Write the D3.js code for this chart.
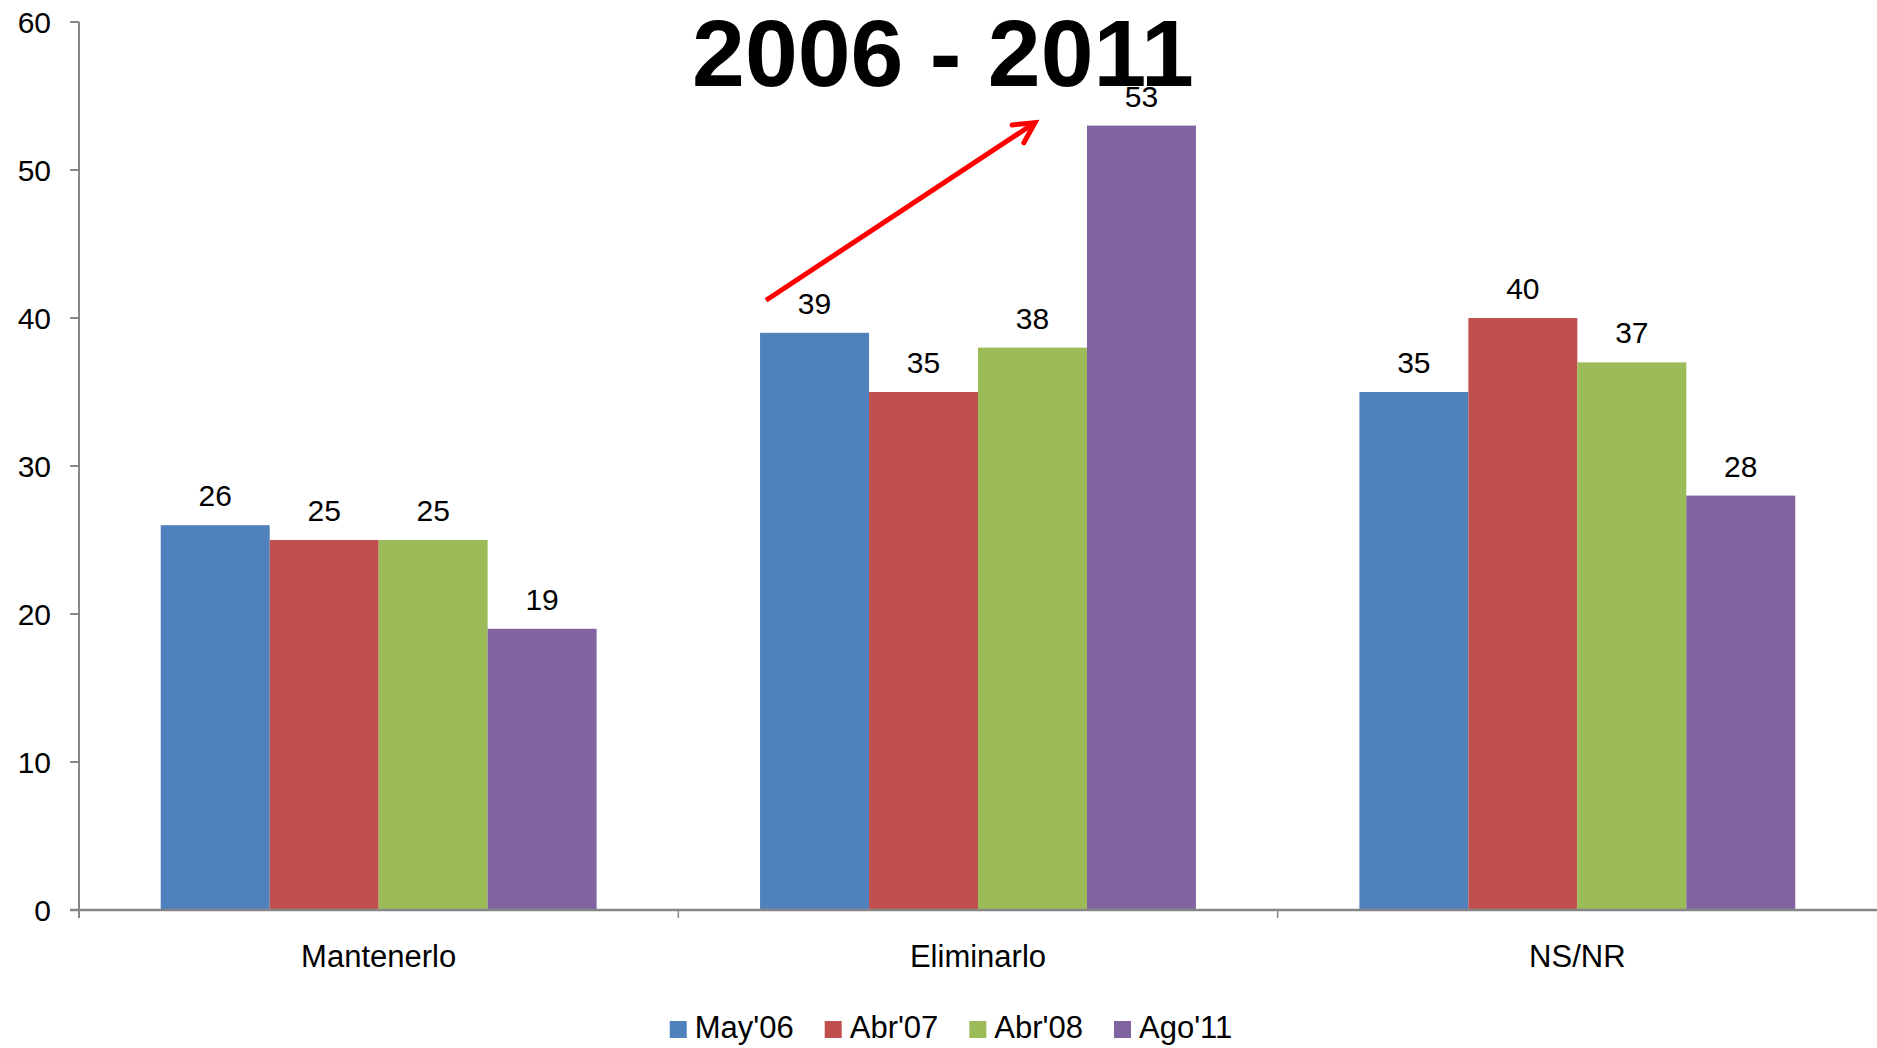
<!DOCTYPE html>
<html>
<head>
<meta charset="utf-8">
<script src="https://cdn.jsdelivr.net/npm/d3@7/dist/d3.min.js"></script>
<style>
  html, body { margin: 0; padding: 0; background: #fff; }
  svg { display: block; font-family: "Liberation Sans", Arial, sans-serif; }
</style>
</head>
<body>
<svg id="chart" width="1877" height="1048"></svg>
<script>
const categories = ["Mantenerlo", "Eliminarlo", "NS/NR"];
const seriesNames = ["May'06", "Abr'07", "Abr'08", "Ago'11"];
const seriesColors = ["#4F81BD", "#C0504D", "#9BBB59", "#8064A2"];
const may06 = [26, 39, 35];
const abr07 = [25, 35, 40];
const abr08 = [25, 38, 37];
const ago11 = [19, 53, 28];
const yTicks = [0, 10, 20, 30, 40, 50, 60];
const titleText = "2006 - 2011";
// arrow annotation: from (Eliminarlo, May'06, value 41.2) to (Eliminarlo, Ago'11, value 53.2)
const arrowFromValue = 41.2;
const arrowToValue = 53.2;

(function () {
const seriesValues = [may06, abr07, abr08, ago11];

const plotLeft = 79, plotRight = 1877, plotTop = 22, plotBottom = 910;
const svg = d3.select("#chart");

const x0 = d3.scaleBand().domain(categories).range([plotLeft, plotRight]).paddingInner(0).paddingOuter(0);
const gapRatio = 1.5 / 5.5 / 2; // Excel gap width 150%
const x1 = d3.scaleBand().domain(seriesNames)
  .range([x0.bandwidth() * gapRatio, x0.bandwidth() * (1 - gapRatio)]).padding(0);
const y = d3.scaleLinear().domain([0, 60]).range([plotBottom, plotTop]);

const axisColor = "#868686";

// bars
categories.forEach((cat, ci) => {
  seriesNames.forEach((s, si) => {
    const v = seriesValues[si][ci];
    svg.append("rect")
      .attr("x", x0(cat) + x1(s))
      .attr("y", y(v))
      .attr("width", x1.bandwidth())
      .attr("height", y(0) - y(v))
      .attr("fill", seriesColors[si]);
  });
});

// title
svg.append("text").attr("x", 943).attr("y", 86).attr("text-anchor", "middle")
  .attr("font-size", 95).attr("font-weight", "bold").attr("fill", "#000").text(titleText);

// data labels
categories.forEach((cat, ci) => {
  seriesNames.forEach((s, si) => {
    const v = seriesValues[si][ci];
    svg.append("text")
      .attr("x", x0(cat) + x1(s) + x1.bandwidth() / 2)
      .attr("y", y(v) - 19)
      .attr("text-anchor", "middle")
      .attr("font-size", 30)
      .attr("fill", "#000")
      .text(v);
  });
});

// y axis
const yAxis = svg.append("g");
yAxis.append("line").attr("x1", plotLeft).attr("x2", plotLeft).attr("y1", plotTop).attr("y2", plotBottom + 8)
  .attr("stroke", axisColor).attr("stroke-width", 2);
yTicks.forEach(t => {
  yAxis.append("line").attr("x1", plotLeft - 9).attr("x2", plotLeft).attr("y1", y(t)).attr("y2", y(t))
    .attr("stroke", axisColor).attr("stroke-width", 2);
  yAxis.append("text").attr("x", 51).attr("y", y(t) + 11)
    .attr("text-anchor", "end").attr("font-size", 30).attr("fill", "#000").text(t);
});

// x axis
const xAxis = svg.append("g");
xAxis.append("line").attr("x1", plotLeft - 9).attr("x2", plotRight).attr("y1", plotBottom).attr("y2", plotBottom)
  .attr("stroke", axisColor).attr("stroke-width", 2.5);
categories.forEach((cat, i) => {
  if (i > 0) {
    xAxis.append("line").attr("x1", x0(cat)).attr("x2", x0(cat)).attr("y1", plotBottom).attr("y2", plotBottom + 8)
      .attr("stroke", axisColor).attr("stroke-width", 1.5);
  }
  xAxis.append("text").attr("x", x0(cat) + x0.bandwidth() / 2).attr("y", 967)
    .attr("text-anchor", "middle").attr("font-size", 31).attr("fill", "#000").text(cat);
});

// arrow
const ax1 = x0("Eliminarlo") + x1("May'06") + 6;
const ay1 = y(arrowFromValue);
const ax2 = x0("Eliminarlo") + x1("Ago'11") - 52;
const ay2 = y(arrowToValue);
const ang = Math.atan2(ay2 - ay1, ax2 - ax1);
const headLen = 23, headAng = Math.PI / 6.5;
svg.append("line").attr("x1", ax1).attr("y1", ay1).attr("x2", ax2 - 2 * Math.cos(ang)).attr("y2", ay2 - 2 * Math.sin(ang))
  .attr("stroke", "#FF0000").attr("stroke-width", 5);
const hp = [
  [ax2 - headLen * Math.cos(ang - headAng), ay2 - headLen * Math.sin(ang - headAng)],
  [ax2, ay2],
  [ax2 - headLen * Math.cos(ang + headAng), ay2 - headLen * Math.sin(ang + headAng)]
];
svg.append("path").attr("d", d3.line()(hp)).attr("fill", "none")
  .attr("stroke", "#FF0000").attr("stroke-width", 5).attr("stroke-linejoin", "miter").attr("stroke-linecap", "round");

// legend
const legend = svg.append("g");
let lx = 0;
seriesNames.forEach((s, i) => {
  const g = legend.append("g").attr("transform", `translate(${lx},0)`);
  g.append("rect").attr("x", 0).attr("y", 1021).attr("width", 17).attr("height", 17).attr("fill", seriesColors[i]);
  const t = g.append("text").attr("x", 25).attr("y", 1038).attr("font-size", 31).attr("fill", "#000").text(s);
  const w = t.node().getComputedTextLength();
  lx += 25 + w + 31;
});
const totalW = lx - 31;
legend.attr("transform", `translate(${951 - totalW / 2},0)`);
})();
</script>
</body>
</html>
